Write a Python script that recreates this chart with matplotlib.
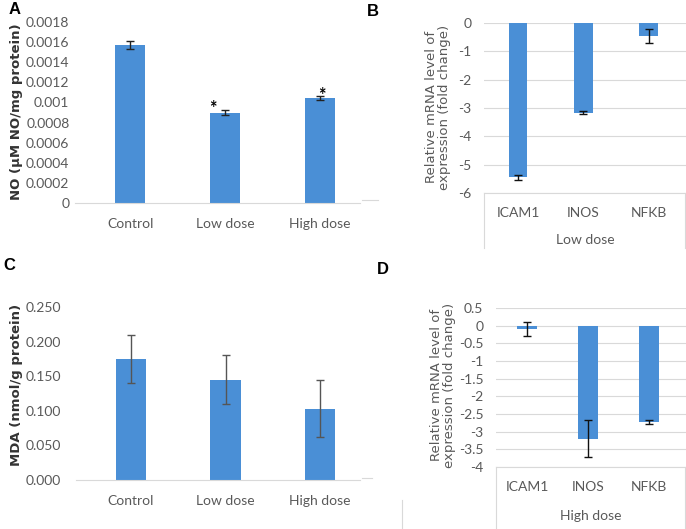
import numpy as np
import matplotlib.pyplot as plt

plt.rcParams['font.family'] = ['Lato', 'DejaVu Sans']

W, H = 686, 529

# panel A / C data
groups = ["Control", "Low dose", "High dose"]
no_vals = [0.00157, 0.00090, 0.00104]
no_err = [0.00004, 0.00002, 0.00002]
mda_vals = [0.175, 0.145, 0.103]
mda_err = [0.035, 0.035, 0.041]

# panel B / D data
genes = ["ICAM1", "INOS", "NFKB"]
low_fold = [-5.45, -3.17, -0.45]
low_err = [0.08, 0.05, 0.25]
high_fold = [-0.10, -3.20, -2.72]
high_err = [0.19, 0.53, 0.05]

BLUE = '#4a8fd6'
GREY = '#595959'
GRID = '#d9d9d9'


def px(l, t, r, b):
    return [l / W, 1 - b / H, (r - l) / W, (b - t) / H]


def style(ax):
    for s in ['top', 'right', 'left']:
        ax.spines[s].set_visible(False)
    ax.spines['bottom'].set_color(GRID)
    ax.tick_params(length=0, colors=GREY, labelsize=10)


fig = plt.figure(figsize=(W / 100, H / 100), dpi=100)

# ---- A ----
axA = fig.add_axes(px(75, 22, 360, 203))
x = np.arange(3)
axA.bar(x, no_vals, width=0.32, color=BLUE, zorder=2)
axA.errorbar(x, no_vals, yerr=no_err, fmt='none', ecolor='#222222',
             capsize=3, elinewidth=1, zorder=3)
axA.set_xlim(-0.58, 2.42)
axA.set_ylim(0, 0.0018)
axA.set_yticks(np.arange(0, 0.00181, 0.0002))
axA.set_yticklabels(['0', '0.0002', '0.0004', '0.0006', '0.0008', '0.001',
                     '0.0012', '0.0014', '0.0016', '0.0018'])
axA.set_xticks(x)
axA.set_xticklabels(groups)
style(axA)
axA.tick_params(axis='x', pad=11)
axA.tick_params(axis='y', pad=4)
axA.text(1 - 0.13, no_vals[1] + no_err[1] + 0.00002, '*', ha='center',
         va='center', fontsize=13, fontweight='bold', color='black')
axA.text(2 + 0.02, no_vals[2] + no_err[2] + 0.00001, '*', ha='center',
         va='center', fontsize=13, fontweight='bold', color='black')
fig.text(17 / W, 1 - 112 / H, 'NO (µM NO/mg protein)', rotation=90,
         ha='center', va='center', fontsize=9.5, fontweight='bold',
         color='#333333', family=['DejaVu Sans'])

# ---- C ----
axC = fig.add_axes(px(76, 307, 360, 480))
axC.bar(x, mda_vals, width=0.32, color=BLUE, zorder=2)
axC.errorbar(x, mda_vals, yerr=mda_err, fmt='none', ecolor='#555555',
             capsize=3, elinewidth=1, zorder=3)
axC.set_xlim(-0.58, 2.42)
axC.set_ylim(0, 0.25)
axC.set_yticks(np.arange(0, 0.251, 0.05))
axC.set_yticklabels(['%.3f' % v for v in np.arange(0, 0.251, 0.05)])
axC.set_xticks(x)
axC.set_xticklabels(groups)
style(axC)
axC.tick_params(axis='x', pad=11)
axC.tick_params(axis='y', pad=11)
fig.text(17 / W, 1 - 385 / H, 'MDA (nmol/g protein)', rotation=90,
         ha='center', va='center', fontsize=9.5, fontweight='bold',
         color='#333333', family=['DejaVu Sans'])


def fold_panel(rect, vals, errs, ylim, ticks, ticklabels, xlim, width,
               box_bottom, group_label, label_y, ylabel_pos):
    ax = fig.add_axes(px(*rect))
    ax.bar(x, vals, width=width, color=BLUE, zorder=2)
    ax.errorbar(x, vals, yerr=errs, fmt='none', ecolor='#111111',
                capsize=3, elinewidth=1, zorder=3)
    ax.set_xlim(*xlim)
    ax.set_ylim(*ylim)
    ax.set_yticks(ticks)
    ax.set_yticklabels(ticklabels)
    ax.grid(axis='y', color=GRID, lw=0.8, zorder=0)
    ax.set_xticks(x)
    ax.set_xticklabels(genes)
    style(ax)
    ax.spines['bottom'].set_visible(False)
    ax.tick_params(axis='x', pad=10)
    ax.tick_params(axis='y', pad=9)
    l, t, r, b = rect
    # category box
    for xx in (l, r - 1):
        fig.add_artist(plt.Line2D([xx / W, xx / W], [1 - b / H, 1 - box_bottom / H],
                                  color=GRID, lw=0.8))
    fig.add_artist(plt.Line2D([l / W, r / W], [1 - b / H, 1 - b / H],
                              color=GRID, lw=0.8))
    fig.text((l + r) / 2 / W, 1 - label_y / H, group_label, ha='center',
             va='center', fontsize=10, color=GREY)
    fig.text(ylabel_pos[0] / W, 1 - ylabel_pos[1] / H,
             'Relative mRNA level of\nexpression (fold change)', rotation=90,
             ha='center', va='center', fontsize=9.5, color=GREY,
             linespacing=0.95, family=['DejaVu Sans'])
    return ax


# ---- B ----
fold_panel((484, 23, 686, 193), low_fold, low_err, (-6, 0),
           np.arange(-6, 0.1, 1), [str(int(v)) for v in np.arange(-6, 0.1, 1)],
           (-0.52, 2.57), 0.29, 248, 'Low dose', 240, (438, 107))

# ---- D ----
dticks = np.arange(-4, 0.51, 0.5)
dlabels = ['%g' % v for v in dticks]
fold_panel((496, 308, 686, 467), high_fold, high_err, (-4, 0.5),
           dticks, dlabels, (-0.51, 2.6), 0.33, 529, 'High dose', 516, (443, 385))

# stray border fragments from the source figure
fig.add_artist(plt.Line2D([362 / W, 378 / W], [1 - 200 / H, 1 - 200 / H], color=GRID, lw=0.8))
fig.add_artist(plt.Line2D([362 / W, 372 / W], [1 - 478 / H, 1 - 478 / H], color=GRID, lw=0.8))
fig.add_artist(plt.Line2D([402 / W, 402 / W], [1 - 500 / H, 0], color=GRID, lw=0.8))

# panel letters
for letter, (lx, ly) in {'A': (15, 10), 'B': (373, 11), 'C': (9, 266), 'D': (383, 270)}.items():
    fig.text(lx / W, 1 - ly / H, letter, ha='center', va='center',
             fontsize=12, fontweight='bold', color='black',
             family=['Liberation Sans'])

fig.savefig('out.png', dpi=100)
